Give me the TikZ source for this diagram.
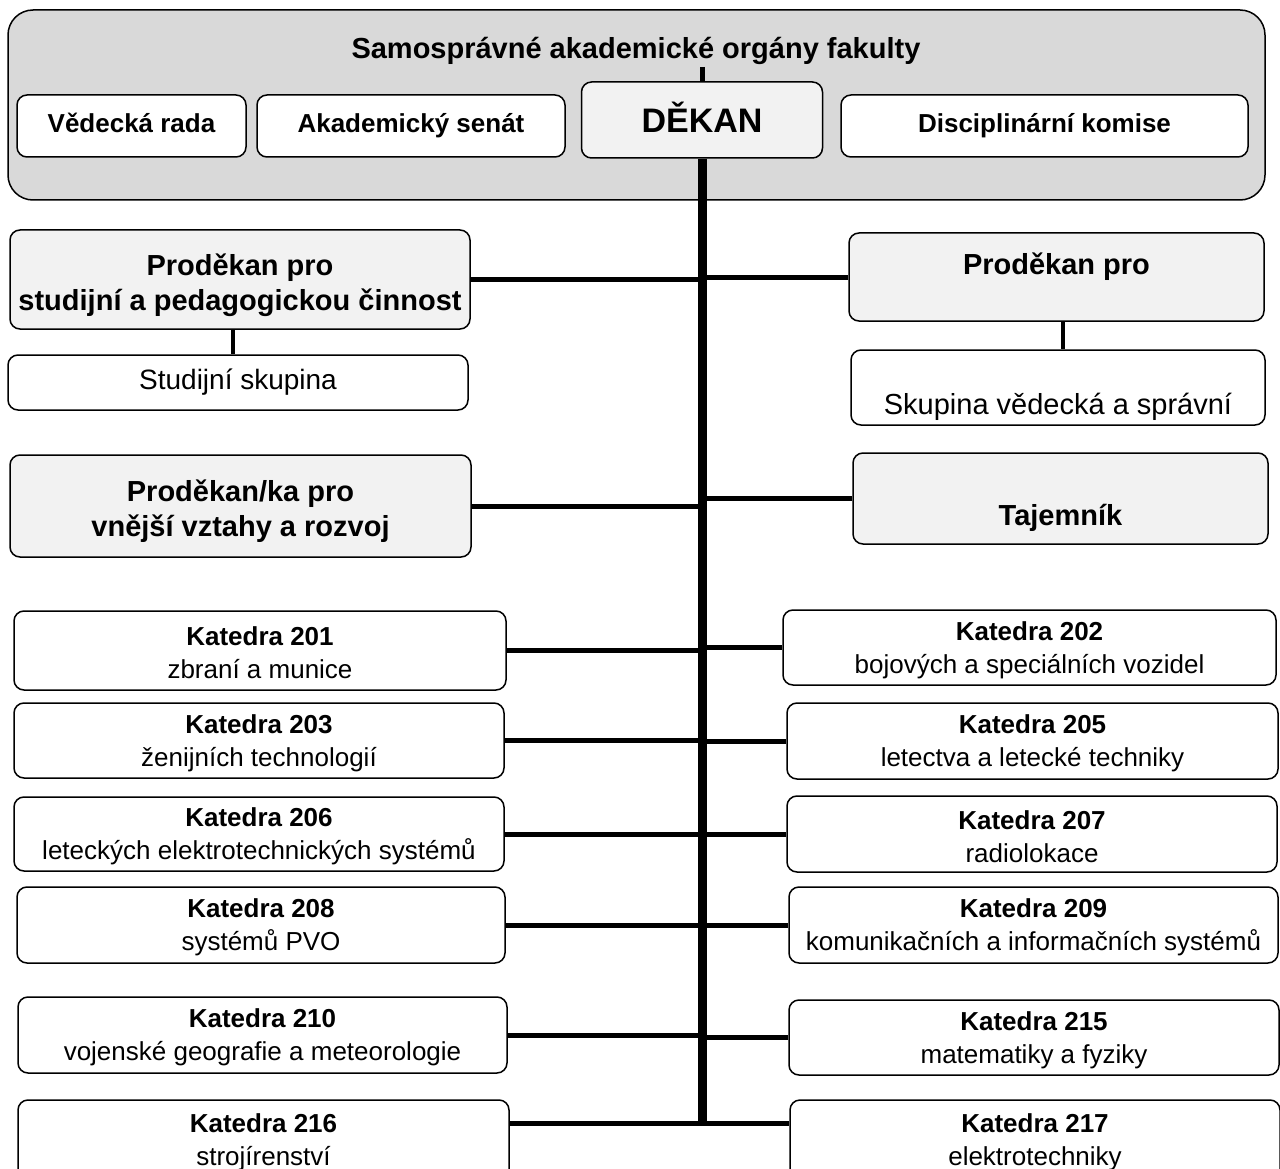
\documentclass[tikz,border=0pt]{standalone}
\usepackage{fontspec}
\setmainfont{Liberation Sans}
\tikzset{
  box/.style={draw, line width=1.5pt, rounded corners=10pt, fill=white, inner sep=0pt,
    align=center, font=\fontsize{26}{33}\selectfont},
  headbox/.style={box, fill=gray!10, font=\fontsize{29}{35}\selectfont\bfseries},
  oneline/.style 2 args={text height=#1pt, text depth=#2pt},
  wh/.style 2 args={minimum width=#1pt, minimum height=#2pt},
  conn/.style={line width=5pt},
  trunk/.style={line width=9pt}
}
% raises the first line of a node so that its text sits lower
\newcommand{\lowr}[1]{\rule{0pt}{#1pt}}
\begin{document}
\begin{tikzpicture}[x=1pt,y=-1pt]
  \useasboundingbox (0,0) rectangle (1280,1169);
  % samospravne organy
  \node[draw, line width=1.5pt, fill=gray!30, rounded corners=25pt, wh={1257}{190}] (organy) at (636.5,105) {};
  \node[font=\fontsize{29}{35}\selectfont\bfseries, oneline={21}{6}] (title) at (636,51) {Samosprávné akademické orgány fakulty};
  \node[box, oneline={19}{5}, wh={229}{62}, font=\fontsize{26}{33}\selectfont\bfseries] (vr) at (131.5,126) {Vědecká rada};
  \node[box, oneline={19}{5}, wh={308}{62}, font=\fontsize{26}{33}\selectfont\bfseries] (as) at (411,126) {Akademický senát};
  \node[box, fill=gray!10, oneline={24.5}{0}, wh={241}{76}, font=\fontsize{34}{40}\selectfont\bfseries] (dek) at (702,120) {DĚKAN};
  \node[box, oneline={19}{5}, wh={407}{62}, font=\fontsize{26}{33}\selectfont\bfseries] (dk) at (1044.5,126) {Disciplinární komise};
  \draw[conn] (dek.north |- 0,67) -- (dek.north);
  \coordinate (trunkend) at (702,1123);
  \draw[trunk] (dek.south) -- (trunkend);

  % prodekani
  \node[headbox, wh={460}{99}] (pst) at (240,279.5) {\lowr{33}Proděkan pro\\studijní a pedagogickou činnost};
  \node[box, oneline={20}{5.5}, wh={460}{55}, font=\fontsize{28}{35}\selectfont] (ss) at (238,382.5) {Studijní skupina};
  \node[headbox, wh={461}{102}] (pvv) at (240.5,506) {\lowr{33}Proděkan/ka pro\\vnější vztahy a rozvoj};
  \node[headbox, wh={415}{88}] (pvr) at (1056.5,277) {\lowr{41}Proděkan pro\\\strut};
  \node[box, wh={414}{75}, font=\fontsize{29}{35}\selectfont] (svs) at (1058,387.5) {\strut\\Skupina vědecká a správní};
  \node[headbox, wh={415}{91}] (taj) at (1060.5,498.5) {\strut\\Tajemník};
  \draw[line width=4pt] (pst.south -| 233,0) -- (ss.north -| 233,0);
  \draw[line width=4pt] (pvr.south -| 1063,0) -- (svs.north -| 1063,0);
  \foreach \n in {pst,pvv}
    \draw[conn] (\n.east) -- (\n.east -| dek.south);
  \foreach \n in {pvr,taj}
    \draw[conn] (\n.west) -- (\n.west -| dek.south);

  % katedry
  \node[box, wh={492}{79}] (k201) at (260,650.5) {\lowr{24}\textbf{Katedra 201}\\zbraní a munice};
  \node[box, wh={493}{75}] (k202) at (1029.5,647.5) {\lowr{24}\textbf{Katedra 202}\\bojových a speciálních vozidel};
  \node[box, wh={490}{75}] (k203) at (259,740.5) {\lowr{24}\textbf{Katedra 203}\\ženijních technologií};
  \node[box, wh={491}{76}] (k205) at (1032.5,741) {\lowr{24}\textbf{Katedra 205}\\letectva a letecké techniky};
  \node[box, wh={490}{74}] (k206) at (259,834) {\lowr{24}\textbf{Katedra 206}\\leteckých elektrotechnických systémů};
  \node[box, wh={490}{76}] (k207) at (1032,834) {\lowr{24}\textbf{Katedra 207}\\radiolokace};
  \node[box, wh={488}{76}] (k208) at (261,925) {\lowr{24}\textbf{Katedra 208}\\systémů PVO};
  \node[box, wh={489}{76}] (k209) at (1033.5,925) {\lowr{24}\textbf{Katedra 209}\\komunikačních a informačních systémů};
  \node[box, wh={489}{76}] (k210) at (262.5,1035) {\lowr{24}\textbf{Katedra 210}\\vojenské geografie a meteorologie};
  \node[box, wh={490}{75}] (k215) at (1034,1037.5) {\lowr{24}\textbf{Katedra 215}\\matematiky a fyziky};
  \node[box, wh={491}{80}] (k216) at (263.5,1140) {\lowr{24}\textbf{Katedra 216}\\strojírenství};
  \node[box, wh={490}{80}] (k217) at (1035,1140) {\lowr{24}\textbf{Katedra 217}\\elektrotechniky};
  \foreach \l/\r in {k201/k202,k203/k205,k206/k207,k208/k209,k210/k215}{
    \draw[conn] (\l.east) -- (\l.east -| dek.south);
    \draw[conn] (\r.west) -- (\r.west -| dek.south);
  }
  \draw[conn] (k216.east |- trunkend) -- (k217.west |- trunkend);
\end{tikzpicture}
\end{document}
